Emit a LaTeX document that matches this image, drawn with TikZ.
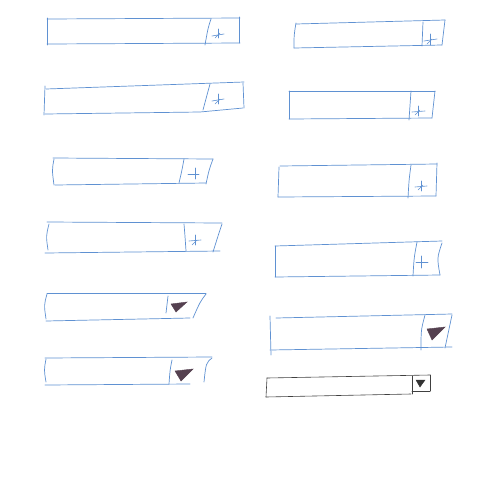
\documentclass[tikz,border=0pt]{standalone}
\begin{document}
\begin{tikzpicture}[x=1pt,y=-1pt,
  sk/.style={draw=skblue,line width=0.7pt,line cap=round},
  skk/.style={draw=black!75,line width=0.6pt,line cap=round},
  sym/.style={draw=skblue,line width=0.6pt,line cap=round},
  tri/.style={fill=skdark,draw=skdark,line width=0.4pt}]
\definecolor{skblue}{RGB}{95,145,210}
\definecolor{skdark}{RGB}{85,65,80}
\useasboundingbox (0,0) rectangle (480,480);
\fill[white] (0,0) rectangle (480,480);
% ---------- left column ----------
% 1
\draw[sk] (47,19) -- (240,18);
\draw[sk] (47,44) -- (240,43);
\draw[sk] (47,18) -- (47,45);
\draw[sk] (239,17) -- (239,43);
\draw[sk] (211,19) .. controls (208,28) .. (205,45);
\draw[sym] (212,36) -- (224,34); \draw[sym] (218,29) -- (218,38); \draw[sym] (215,38) -- (220,33);
% 2
\draw[sk] (46,89) -- (244,82);
\draw[sk] (45,114) -- (200,112) -- (243,108);
\draw[sk] (45,86) -- (44,115);
\draw[sk] (243,83) -- (244,108);
\draw[sk] (210,84) .. controls (207,95) .. (203,110);
\draw[sym] (212,101) -- (224,99); \draw[sym] (218,94) -- (218,104); \draw[sym] (215,104) -- (220,99);
% 3
\draw[sk] (53,158) -- (213,159);
\draw[sk] (55,185) -- (206,183);
\draw[sk] (54,159) .. controls (52,170) .. (54,185);
\draw[sk] (213,159) .. controls (209,170) .. (206,184);
\draw[sk] (184,159) .. controls (182,170) .. (179,183);
\draw[sym] (188,174) -- (199,174); \draw[sym] (195,168) -- (195,179);
% 4
\draw[sk] (47,222) -- (222,223);
\draw[sk] (45,253) -- (220,251);
\draw[sk] (49,224) .. controls (46,236) .. (48,250);
\draw[sk] (222,224) .. controls (218,236) .. (213,252);
\draw[sk] (184,224) .. controls (185,236) .. (186,251);
\draw[sym] (189,241) -- (201,240); \draw[sym] (195,235) -- (195,245); \draw[sym] (192,245) -- (197,240);
% 5
\draw[sk] (47,293) -- (206,293);
\draw[sk] (46,321) -- (190,318);
\draw[sk] (47,294) .. controls (44,305) .. (46,319);
\draw[sk] (206,294) .. controls (200,302) .. (193,318);
\draw[sk] (168,296) .. controls (167,304) .. (166,313);
\draw[tri] (171,304) -- (187,302) -- (176,312) -- cycle;
% 6
\draw[sk] (45,358) -- (212,357);
\draw[sk] (45,385) -- (190,384);
\draw[sk] (46,359) .. controls (44,370) .. (46,382);
\draw[sk] (212,358) .. controls (206,363) .. (204,382);
\draw[sk] (172,360) .. controls (170,370) .. (169,384);
\draw[tri] (175,371) -- (193,369) -- (181,381) -- cycle;
% ---------- right column ----------
% 7
\draw[sk] (296,24) -- (445,20);
\draw[sk] (294,48) -- (442,45);
\draw[sk] (296,23) .. controls (294,35) .. (294,48);
\draw[sk] (445,20) -- (442,45);
\draw[sk] (423,22) -- (422,46);
\draw[sym] (424,41) -- (437,39); \draw[sym] (430,34) -- (430,45); \draw[sym] (427,44) -- (432,39);
% 8
\draw[sk] (289,91) -- (435,91);
\draw[sk] (289,119) -- (432,118);
\draw[sk] (289,91) -- (289,119);
\draw[sk] (435,91) -- (432,118);
\draw[sk] (411,91) -- (409,120);
\draw[sym] (412,112) -- (425,111); \draw[sym] (418,106) -- (418,116); \draw[sym] (415,115) -- (420,110);
% 9
\draw[sk] (280,166) -- (437,164);
\draw[sk] (278,197) -- (436,196);
\draw[sk] (279,167) -- (278,197);
\draw[sk] (437,163) -- (436,196);
\draw[sk] (411,165) .. controls (409,180) .. (408,198);
\draw[sym] (415,187) -- (427,186); \draw[sym] (421,181) -- (421,191); \draw[sym] (418,190) -- (423,185);
% 10
\draw[sk] (275,246) -- (442,241);
\draw[sk] (275,277) -- (440,275);
\draw[sk] (275,246) -- (275,277);
\draw[sk] (442,243) .. controls (437,258) .. (440,275);
\draw[sk] (417,242) .. controls (414,258) .. (413,276);
\draw[sym] (416,262) -- (428,262); \draw[sym] (421,256) -- (421,268);
% 11
\draw[sk] (276,318) -- (452,314);
\draw[sk] (270,350) -- (452,347);
\draw[sk] (270,316) -- (271,355);
\draw[sk] (452,315) -- (445,348);
\draw[sk] (425,315) .. controls (421,330) .. (421,350);
\draw[tri] (427,329) -- (445,327) -- (432,340) -- cycle;
% 12 (black)
\draw[skk] (267,378) -- (430,375);
\draw[skk] (266,397) -- (411,394);
\draw[skk] (267,378) -- (266,397);
\draw[skk] (430,375) -- (430,391);
\draw[skk] (412,376) -- (412,394);
\draw[skk] (412,391) -- (430,391);
\draw[fill=black!80,draw=black!80] (416,380) -- (425,380) -- (420,387) -- cycle;
\end{tikzpicture}
\end{document}
